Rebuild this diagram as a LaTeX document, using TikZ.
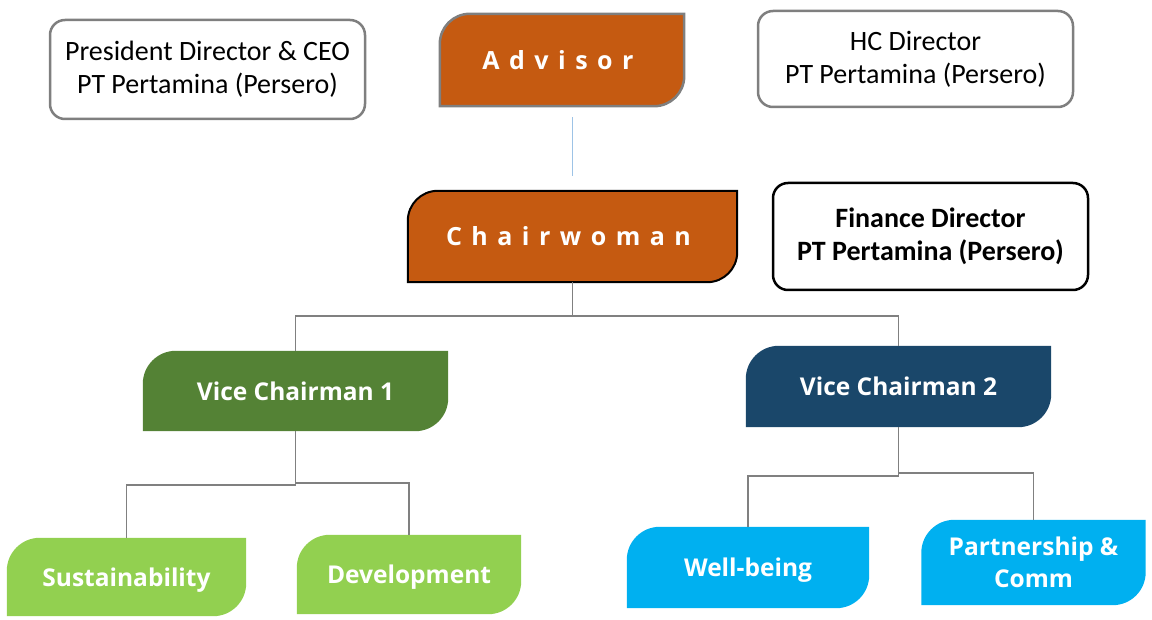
\documentclass[tikz,border=0pt]{standalone}
\usepackage{fontspec}
\setmainfont{Carlito}
\newfontfamily\osb{Open Sans}
\newfontfamily\osbsp{Open Sans}[LetterSpace=38]
\usetikzlibrary{backgrounds,calc}
\definecolor{orng}{HTML}{C55A11}
\definecolor{dgreen}{HTML}{548235}
\definecolor{dblue}{HTML}{1A476A}
\definecolor{lgreen}{HTML}{92D050}
\definecolor{cyanb}{HTML}{00B0F0}
\definecolor{conngray}{HTML}{808080}
\definecolor{bordgray}{HTML}{7F7F7F}
\definecolor{lblue}{HTML}{9DC3E6}
\newcommand{\rdiag}[3]{% node name, radius, path options
  \path[#3] ([xshift=#2]#1.north west) -- (#1.north east) -- ([yshift=#2]#1.south east)
    arc[start angle=0,end angle=-90,radius=#2] -- (#1.south west) -- ([yshift=-#2]#1.north west)
    arc[start angle=180,end angle=90,radius=#2] -- cycle;}
\newcommand{\low}[1]{\raisebox{-3pt}[\height][\depth]{#1}}
\begin{document}
\begin{tikzpicture}[x=1pt,y=-1pt,
  whitebox/.style={draw=bordgray,line width=2.5pt,rounded corners=15pt,fill=white,
    inner sep=0pt,align=center,font=\fontsize{28}{33}\selectfont},
  shapebox/.style={inner sep=0pt,align=center,text=white},
  spaced/.style={font=\osbsp\bfseries\fontsize{25}{30}\selectfont},
  boldsans/.style={font=\osb\bfseries\fontsize{24.5}{32}\selectfont},
  conn/.style={draw=conngray,line width=1.5pt}]
\useasboundingbox (0,0) rectangle (1152,620);
% white boxes
\node[whitebox,minimum width=315pt,minimum height=99pt] (pres) at (207.5,69.5)
  {President Director \& CEO\\PT Pertamina (Persero)};
\node[whitebox,minimum width=315pt,minimum height=96pt] (hc) at (915.5,59)
  {HC Director\\PT Pertamina (Persero)};
\node[whitebox,draw=black,minimum width=315pt,minimum height=107pt,font=\bfseries\fontsize{28}{33}\selectfont] (fin) at (930.5,236.5)
  {Finance Director\\PT Pertamina (Persero)};
% coloured shapes (text nodes)
\node[shapebox,spaced,minimum width=244pt,minimum height=92pt] (adv) at (562,60) {\hspace*{-8pt}Advisor};
\node[shapebox,spaced,minimum width=329pt,minimum height=91pt] (chair) at (572.5,236.5) {\hspace*{-8pt}Chairwoman};
\node[shapebox,boldsans,minimum width=305pt,minimum height=80pt] (vc1) at (295.5,391) {Vice Chairman 1};
\node[shapebox,boldsans,minimum width=305pt,minimum height=81pt] (vc2) at (898.5,386.5) {Vice Chairman 2};
\node[shapebox,boldsans,minimum width=239pt,minimum height=78pt] (sus) at (126.5,577) {\low{Sustainability}};
\node[shapebox,boldsans,minimum width=224pt,minimum height=79pt] (dev) at (409,574.5) {\low{Development}};
\node[shapebox,boldsans,minimum width=242pt,minimum height=81pt] (well) at (748,567.5) {\low{Well-being}};
\node[shapebox,boldsans,minimum width=224pt,minimum height=85pt] (part) at (1033.5,562.5) {Partnership \&\\Comm};
\begin{scope}[on background layer]
  \rdiag{adv}{30pt}{fill=orng,draw=bordgray,line width=2.5pt}
  \rdiag{chair}{30pt}{fill=orng,draw=black,line width=2pt}
  \rdiag{vc1}{33pt}{fill=dgreen}
  \rdiag{vc2}{33pt}{fill=dblue}
  \rdiag{sus}{33pt}{fill=lgreen}
  \rdiag{dev}{33pt}{fill=lgreen}
  \rdiag{well}{33pt}{fill=cyanb}
  \rdiag{part}{33pt}{fill=cyanb}
  % connectors
  \draw[lblue,line width=1.5pt] ([yshift=-11pt]adv.south -| chair.north) -- ([yshift=15pt]chair.north);
  \draw[conn] (chair.south) -- ++(0,34) -| (vc1.north);
  \draw[conn] (chair.south) -- ++(0,34) -| (vc2.north);
  \draw[conn] (vc1.south) -- ++(0,54) -| (sus.north);
  \draw[conn] (vc1.south) -- ++(0,52) -| (dev.north);
  \draw[conn] (vc2.south) -- ++(0,49) -| (well.north);
  \draw[conn] (vc2.south) -- ++(0,46) -| (part.north);
\end{scope}
\end{tikzpicture}
\end{document}
